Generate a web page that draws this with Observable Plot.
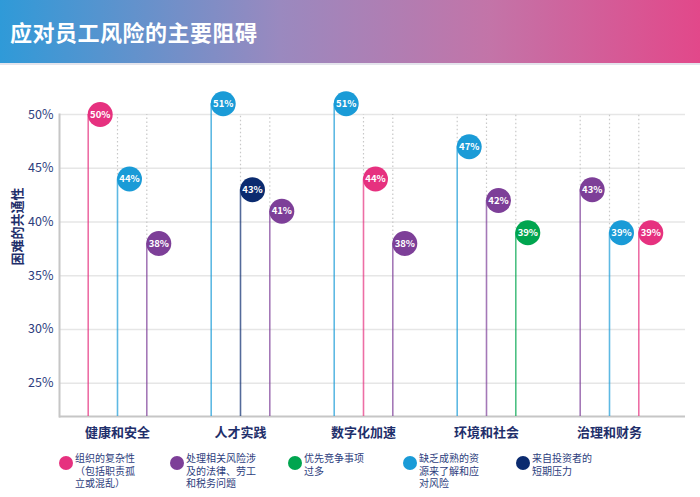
<!DOCTYPE html>
<html><head><meta charset="utf-8">
<script src="https://cdn.jsdelivr.net/npm/d3@7"></script>
<script src="https://cdn.jsdelivr.net/npm/@observablehq/plot@0.6"></script>
<style>
body{margin:0;background:#fff;font-family:"Noto Sans CJK SC","Noto Sans",sans-serif;width:700px;height:497px;overflow:hidden;position:relative}
#hdr{height:65px;background:linear-gradient(90deg,#2f9ad8 0%,#9a89bf 40%,#c374a8 70%,#e2488a 100%);border-bottom:2px solid #e4e4ec;box-sizing:border-box;position:relative}
#hdr h1{margin:0;position:absolute;left:10px;top:15px;color:#fff;font-size:22px;font-weight:700;letter-spacing:0.5px}
#chart{position:absolute;left:0;top:66px}
#legend{position:absolute;left:0;top:446px;width:700px;height:51px}
.li{position:absolute;top:9px}
.li .c{position:absolute;left:0;top:1px;width:14px;height:14px;border-radius:50%}
.li .t{position:absolute;left:16px;top:-3px;font-size:10px;line-height:12.5px;color:#2d3d7d;white-space:pre}
</style></head>
<body>
<div id="hdr"><h1>应对员工风险的主要阻碍</h1></div>
<div id="chart"></div>
<div id="legend"></div>
<script>
const groups = ["健康和安全","人才实践","数字化加速","环境和社会","治理和财务"];
const seriesKeys = ["复杂性","法规","优先","资源","投资者"];
const seriesLabels = ["组织的复杂性\n（包括职责孤\n立或混乱）","处理相关风险涉\n及的法律、劳工\n和税务问题","优先竞争事项\n过多","缺乏成熟的资\n源来了解和应\n对风险","来自投资者的\n短期压力"];
const seriesColors = ["#e6317f","#7d3f98","#00a54f","#1a9bd7","#0b2b6f"];
const groupSeries = [
  ["复杂性","资源","法规"],
  ["资源","投资者","法规"],
  ["资源","复杂性","法规"],
  ["资源","法规","优先"],
  ["法规","资源","复杂性"]
];
const groupValues = [
  [50,44,38],
  [51,43,41],
  [51,44,38],
  [47,42,39],
  [43,39,39]
];
const yTicks = [25,30,35,40,45,50];
const yMin = 21.9;
const yTop = 50;

const rows = [];
groups.forEach((g,gi)=>groupSeries[gi].forEach((s,si)=>rows.push({group:g,slot:si,series:s,value:groupValues[gi][si]})));
const colorOf = s => seriesColors[seriesKeys.indexOf(s)];

const slotStep = 29.3;
const marks = [
  Plot.ruleY(yTicks, {stroke:"#e6e6e6", strokeWidth:1.5, insetRight:-7}),
  Plot.ruleY([yMin], {stroke:"#c6c6c6", strokeWidth:2, insetRight:-7}),
  Plot.frame({anchor:"left", stroke:"#c6c6c6", strokeWidth:2})
];
[0,1,2].forEach(s=>{
  const d = rows.filter(r=>r.slot===s);
  const dx = (s-1)*slotStep;
  marks.push(
    Plot.ruleX(d.filter(r=>r.value<yTop), {x:"group", y1:"value", y2:()=>yTop, stroke:"#c8c8c8", strokeWidth:1.2, strokeDasharray:"1.5,2.5", dx}),
    Plot.ruleX(d, {x:"group", y1:()=>yMin, y2:"value", stroke:r=>colorOf(r.series), strokeOpacity:0.7, strokeWidth:1.6, dx}),
    Plot.dot(d, {x:"group", y:"value", r:12.5, fill:r=>colorOf(r.series), stroke:"none", dx:dx+12}),
    Plot.text(d, {x:"group", y:"value", text:r=>r.value+"%", fill:"white", fontWeight:"bold", fontSize:9.5, dx:dx+12})
  );
});
marks.push(
  Plot.axisY({ticks:yTicks, tickFormat:d=>d+"%", tickSize:0, tickPadding:6, fontSize:12.5, color:"#2d3d7d", label:null}),
  Plot.axisX({tickSize:0, tickPadding:11, fontSize:13, fontWeight:"bold", color:"#1f2f6b", label:null}),
  Plot.text(["困难的共通性"], {text:d=>d, frameAnchor:"left", rotate:-90, dx:-42, fontSize:13, fontWeight:"bold", fill:"#1f2f6b"})
);

const plot = Plot.plot({
  width:700, height:380,
  marginLeft:59, marginRight:22, marginTop:48, marginBottom:30,
  style:{fontFamily:"'Noto Sans CJK SC', sans-serif", background:"transparent", overflow:"visible"},
  x:{type:"point", domain:groups, range:[55,670], axis:null},
  y:{domain:[yMin,yTop], axis:null},
  marks
});
document.getElementById("chart").appendChild(plot);

const lg = document.getElementById("legend");
const legendLeft = [59,170,288,403,516];
seriesKeys.forEach((k,i)=>{
  const el = document.createElement("div");
  el.className="li"; el.style.left=legendLeft[i]+"px";
  el.innerHTML = `<div class="c" style="background:${seriesColors[i]}"></div><div class="t"></div>`;
  el.querySelector(".t").textContent = seriesLabels[i];
  lg.appendChild(el);
});
</script>
</body></html>
